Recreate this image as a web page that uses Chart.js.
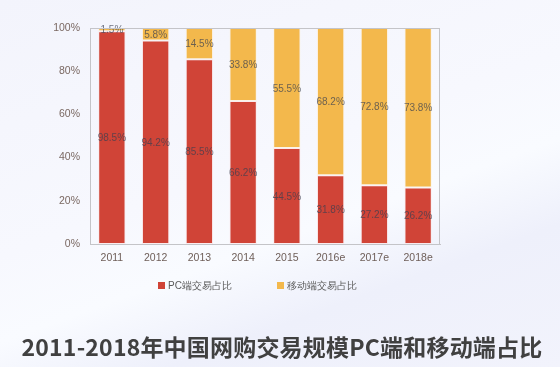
<!DOCTYPE html>
<html>
<head>
<meta charset="utf-8">
<script src="https://cdn.jsdelivr.net/npm/chart.js@4.4.0/dist/chart.umd.min.js"></script>
<style>
  html, body { margin:0; padding:0; }
  body { width:560px; height:367px; overflow:hidden; position:relative;
    background: linear-gradient(160deg, #f3f4fc 0%, #f7f8fe 45%, #f9fbff 60%, #eef0fb 75%, #f2f3fc 100%); }
  #wrap { position:absolute; left:0; top:0; width:560px; height:367px; }
  .legend { position:absolute; top:279px; font: 10px "Liberation Sans", Arial, sans-serif; color:#5a5a5a; white-space:nowrap; line-height:14px; }
  .legend span.box { display:inline-block; width:7px; height:7px; margin-right:3px; vertical-align:0px; }
  #title { position:absolute; left:0; width:564px; top:331px; text-align:center; letter-spacing:0.2px;
    font: bold 23px "Noto Sans CJK SC", sans-serif; color:#404040; line-height:30px; white-space:nowrap; }
</style>
</head>
<body>
<div id="wrap"><canvas id="c" width="560" height="367"></canvas></div>
<div class="legend" style="left:158px"><span class="box" style="background:#d04437"></span>PC端交易占比</div>
<div class="legend" style="left:277px"><span class="box" style="background:#f3b84c"></span>移动端交易占比</div>
<div id="title">2011-2018年中国网购交易规模PC端和移动端占比</div>
<script>
const categories = ["2011","2012","2013","2014","2015","2016e","2017e","2018e"];
const pcShare = [98.5, 94.2, 85.5, 66.2, 44.5, 31.8, 27.2, 26.2];
const mobileShare = [1.5, 5.8, 14.5, 33.8, 55.5, 68.2, 72.8, 73.8];
const seriesNames = ["PC端交易占比", "移动端交易占比"];
const yTicks = [0, 20, 40, 60, 80, 100];

const boxPlugin = {
  id: 'plotBox',
  afterDraw(chart) {
    const a = chart.chartArea, ctx = chart.ctx;
    ctx.save();
    ctx.strokeStyle = '#c4c4c8';
    ctx.lineWidth = 1;
    ctx.strokeRect(Math.round(a.left) + 0.5, Math.round(a.top) + 0.5, Math.round(a.right - a.left) - 1, Math.round(a.bottom - a.top));
    ctx.restore();
  }
};

const labelPlugin = {
  id: 'valueLabels',
  afterDatasetsDraw(chart) {
    const ctx = chart.ctx;
    ctx.save();
    ctx.font = '10px "Liberation Sans", Arial, sans-serif';
    ctx.textAlign = 'center';
    ctx.textBaseline = 'middle';
    ctx.fillStyle = 'rgba(55,62,80,0.72)';
    chart.data.datasets.forEach((ds, di) => {
      const meta = chart.getDatasetMeta(di);
      meta.data.forEach((el, i) => {
        const p = el.getProps(['x','y','base'], true);
        ctx.fillText(ds.data[i].toFixed(1) + '%', p.x, (p.y + p.base) / 2 + 1);
      });
    });
    ctx.restore();
  }
};

new Chart(document.getElementById('c'), {
  type: 'bar',
  data: {
    labels: categories,
    datasets: [
      { label: seriesNames[0], data: pcShare, backgroundColor: '#d04437', borderColor: 'rgba(255,220,220,0.45)', borderWidth: 1, borderSkipped: false },
      { label: seriesNames[1], data: mobileShare, backgroundColor: '#f3b84c', borderColor: 'rgba(255,240,210,0.5)', borderWidth: 1, borderSkipped: false }
    ]
  },
  options: {
    responsive: false,
    animation: false,
    devicePixelRatio: 1,
    layout: { padding: { left: 50, right: 120, top: 28, bottom: 103 } },
    plugins: { legend: { display: false }, title: { display: false }, tooltip: { enabled: false } },
    datasets: { bar: { categoryPercentage: 1, barPercentage: 0.625 } },
    scales: {
      x: {
        stacked: true,
        grid: { display: false, drawTicks: false },
        border: { display: true, color: '#c4c4c8' },
        ticks: { padding: 8, color: '#6e5e58', font: { size: 10.5, family: '"Liberation Sans", Arial, sans-serif' } },
        afterFit(s) { s.height = 20; }
      },
      y: {
        stacked: true,
        min: 0, max: 100,
        afterBuildTicks(s) { s.ticks = yTicks.map(v => ({ value: v })); },
        grid: { display: false, drawTicks: false },
        border: { display: true, color: '#c4c4c8' },
        ticks: { padding: 10, color: '#7a6862', font: { size: 10.5, family: '"Liberation Sans", Arial, sans-serif' }, callback: v => v + '%' },
        afterFit(s) { s.width = 40; }
      }
    }
  },
  plugins: [boxPlugin, labelPlugin]
});
</script>
</body>
</html>
